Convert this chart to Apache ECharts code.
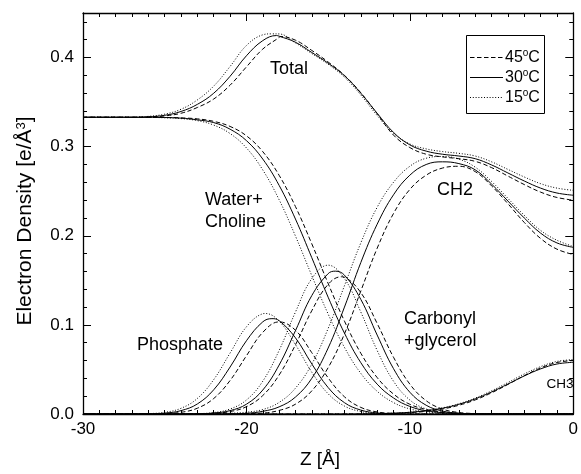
<!DOCTYPE html>
<html><head><meta charset="utf-8">
<script src="https://cdn.jsdelivr.net/npm/echarts@6/dist/echarts.min.js"></script>
<style>html,body{margin:0;padding:0;background:#fff}#c{width:581px;height:474px}</style>
</head><body><div id="c"></div>
<script>
// Z positions [Å]
const z = [-30,-29,-28,-27,-26,-25,-24,-23,-22,-21,-20,-19,-18,-17,-16,-15,-14,-13,-12,-11,-10,-9,-8,-7,-6,-5,-4,-3,-2,-1,0];
const temps = ['45°C','30°C','15°C'];
const xTicks = [-30,-20,-10,0];
const yTicks = [0.0,0.1,0.2,0.3,0.4];

// Total
const total45 = [0.333,0.333,0.333,0.333,0.3333,0.3345,0.3375,0.3440,0.3535,0.3690,0.3895,0.4095,0.4225,0.4195,0.4080,0.3950,0.3800,0.3605,0.3370,0.3130,0.2990,0.2915,0.2885,0.2865,0.2835,0.2765,0.2670,0.2575,0.2490,0.2430,0.2400];
const total30 = [0.333,0.333,0.333,0.333,0.3335,0.3352,0.3395,0.3475,0.3600,0.3790,0.4020,0.4190,0.4240,0.4172,0.4057,0.3937,0.3796,0.3600,0.3375,0.3160,0.3020,0.2950,0.2915,0.2895,0.2865,0.2795,0.2705,0.2615,0.2535,0.2480,0.2455];
const total15 = [0.333,0.333,0.333,0.333,0.3340,0.3365,0.3420,0.3525,0.3680,0.3900,0.4135,0.4255,0.4265,0.4165,0.4045,0.3925,0.3780,0.3580,0.3350,0.3150,0.3030,0.2975,0.2945,0.2925,0.2895,0.2830,0.2745,0.2660,0.2585,0.2535,0.2510];
// Water + Choline
const water45 = [0.333,0.333,0.333,0.333,0.3329,0.3328,0.3323,0.3312,0.3284,0.3227,0.3122,0.2944,0.2679,0.2328,0.1910,0.1465,0.1042,0.0682,0.0409,0.0224,0.0109,0.0051,0.0021,0.0008,0.0003,0.0001,0,0,0,0,0];
const water30 = [0.333,0.333,0.333,0.333,0.3329,0.3327,0.3320,0.3301,0.3270,0.3196,0.3068,0.2861,0.2566,0.2188,0.1754,0.1311,0.0907,0.0576,0.0335,0.0180,0.0085,0.0036,0.0015,0.0005,0.0002,0,0,0,0,0,0];
const water15 = [0.333,0.333,0.333,0.333,0.3329,0.3324,0.3315,0.3292,0.3242,0.3147,0.2986,0.2739,0.2405,0.1997,0.1553,0.1122,0.0747,0.0456,0.0255,0.0128,0.0057,0.0025,0.0010,0.0003,0.0001,0,0,0,0,0,0];
// Phosphate
const phos45 = [0,0,0,0,0.0001,0.0005,0.0019,0.0065,0.0174,0.0376,0.0653,0.0916,0.1034,0.0940,0.0688,0.0406,0.0193,0.0074,0.0023,0.0006,0.0001,0,0,0,0,0,0,0,0,0,0];
const phos30 = [0,0,0,0,0.0002,0.0010,0.0038,0.0113,0.0272,0.0527,0.0822,0.1034,0.1048,0.0855,0.0562,0.0297,0.0127,0.0044,0.0012,0.0003,0,0,0,0,0,0,0,0,0,0,0];
const phos15 = [0,0,0,0,0.0004,0.0019,0.0064,0.0175,0.0386,0.0684,0.0978,0.1125,0.1043,0.0779,0.0469,0.0227,0.0089,0.0028,0.0007,0.0001,0,0,0,0,0,0,0,0,0,0,0];
// Carbonyl + glycerol
const carb45 = [0,0,0,0,0,0,0,0.0002,0.0008,0.0027,0.0082,0.0207,0.0437,0.0776,0.1159,0.1455,0.1535,0.1362,0.1016,0.0637,0.0335,0.0149,0.0055,0.0017,0.0005,0.0001,0,0,0,0,0];
const carb30 = [0,0,0,0,0,0,0,0.0003,0.0011,0.0038,0.0110,0.0269,0.0549,0.0935,0.1329,0.1575,0.1558,0.1286,0.0886,0.0509,0.0244,0.0098,0.0033,0.0009,0.0002,0,0,0,0,0,0];
const carb15 = [0,0,0,0,0,0,0.0001,0.0004,0.0016,0.0056,0.0157,0.0368,0.0713,0.1144,0.1519,0.1670,0.1519,0.1144,0.0713,0.0368,0.0157,0.0056,0.0016,0.0004,0.0001,0,0,0,0,0,0];
// CH2
const ch2_45 = [0,0,0,0,0,0,0,0,0,0.0001,0.0004,0.001,0.004,0.011,0.026,0.052,0.090,0.138,0.186,0.225,0.252,0.268,0.276,0.278,0.272,0.256,0.236,0.215,0.197,0.185,0.179];
const ch2_30 = [0,0,0,0,0,0,0,0,0,0.0002,0.0008,0.003,0.008,0.019,0.040,0.074,0.120,0.170,0.213,0.246,0.268,0.280,0.283,0.281,0.274,0.258,0.239,0.220,0.203,0.192,0.187];
const ch2_15 = [0,0,0,0,0,0,0,0,0.0003,0.0008,0.002,0.005,0.013,0.029,0.056,0.096,0.144,0.192,0.232,0.260,0.278,0.287,0.289,0.286,0.277,0.261,0.242,0.223,0.206,0.195,0.188];
// CH3
const ch3_45 = [0,0,0,0,0,0,0,0,0,0,0,0,0,0,0,0,0,0.0001,0.0003,0.0007,0.0015,0.0030,0.0056,0.0098,0.0158,0.0238,0.0332,0.0430,0.0517,0.0578,0.0600];
const ch3_30 = [0,0,0,0,0,0,0,0,0,0,0,0,0,0,0,0,0,0.0001,0.0004,0.0009,0.0019,0.0037,0.0065,0.0109,0.0170,0.0247,0.0336,0.0427,0.0506,0.0561,0.0580];
const ch3_15 = [0,0,0,0,0,0,0,0,0,0,0,0,0,0,0,0,0,0.0001,0.0004,0.0010,0.0020,0.0038,0.0069,0.0115,0.0179,0.0260,0.0353,0.0449,0.0532,0.0590,0.0610];

// peak maxima read between grid points [z, value] (null = none)
const totalPeaks = [[-17.94,0.4236],[-18.16,0.4247],[-18.46,0.4266]];
const phosPeaks  = [null,[-18.44,0.1070],[-18.85,0.1128]];
const carbPeaks  = [[-14.19,0.1540],[-14.56,0.1603],null];

const groups = [
  {vals: [total45,total30,total15], peaks: totalPeaks},
  {vals: [water45,water30,water15], peaks: [null,null,null]},
  {vals: [phos45,phos30,phos15],   peaks: phosPeaks},
  {vals: [carb45,carb30,carb15],   peaks: carbPeaks},
  {vals: [ch2_45,ch2_30,ch2_15],   peaks: [null,null,null]},
  {vals: [ch3_45,ch3_30,ch3_15],   peaks: [null,null,null]}
];
const dashes = [[4.5,2.5], 'solid', [1,1.8]];
const FONT = 'Liberation Sans, Arial, Helvetica, sans-serif';

const series = [];
groups.forEach(g => g.vals.forEach((arr, ti) => {
  let data = z.map((x, i) => [x, arr[i]]);
  const pk = g.peaks[ti];
  if (pk) { data.push(pk); data.sort((a, b) => a[0] - b[0]); }
  series.push({
    type: 'line', name: temps[ti], xAxisIndex: 0, yAxisIndex: 0,
    data: data,
    smooth: 0.4, symbol: 'none', showSymbol: false, silent: true,
    lineStyle: {color: '#000', width: 1, type: dashes[ti]},
    itemStyle: {color: '#000'}
  });
}));

const axLine = {show: true, onZero: false, lineStyle: {color: '#000', width: 1.3}};
const tickStyle = {color: '#000', width: 1};
const chart = echarts.init(document.getElementById('c'), null, {renderer: 'canvas'});

const legendGraphics = [];
temps.forEach((t, i) => {
  const y = 57 + i * 20;
  legendGraphics.push({type: 'line', shape: {x1: 470, y1: y + 0.5, x2: 503, y2: y + 0.5},
    style: {stroke: '#000', lineWidth: 1, lineDash: i === 1 ? null : dashes[i]}, silent: true});
  legendGraphics.push({type: 'text', x: 505, y: y + 1,
    style: {text: t.replace('°', '{sup|o}'), font: '16px ' + FONT, fill: '#000', align: 'left', verticalAlign: 'middle', lineHeight: 20,
      rich: {sup: {fontSize: 10, fontFamily: FONT, fill: '#000', verticalAlign: 'top', lineHeight: 8}}}, silent: true});
});

chart.setOption({
  animation: false,
  backgroundColor: '#fff',
  grid: {left: 83, right: 4, top: 13, bottom: 60, containLabel: false},
  xAxis: [
    {type: 'value', position: 'bottom', min: -30, max: 0, interval: 10,
     axisLine: axLine, splitLine: {show: false},
     axisTick: {inside: true, length: 8, lineStyle: tickStyle},
     minorTick: {show: true, splitNumber: 10, length: 4, lineStyle: tickStyle},
     axisLabel: {fontSize: 17, color: '#000', fontFamily: FONT, margin: 7,
       formatter: v => xTicks.includes(v) ? String(v) : ''}},
    {type: 'value', position: 'top', min: -30, max: 0, interval: 10,
     axisLine: axLine, splitLine: {show: false},
     axisTick: {inside: true, length: 8, lineStyle: tickStyle},
     minorTick: {show: true, splitNumber: 10, length: 4, lineStyle: tickStyle},
     axisLabel: {show: false}}
  ],
  yAxis: [
    {type: 'value', position: 'left', min: 0, max: 0.45, interval: 0.1,
     axisLine: axLine, splitLine: {show: false},
     axisTick: {inside: true, length: 8, lineStyle: tickStyle},
     axisLabel: {fontSize: 17, color: '#000', fontFamily: FONT, margin: 9, showMaxLabel: false,
       formatter: v => yTicks.some(t => Math.abs(t - v) < 1e-9) ? v.toFixed(1) : ''}},
    {type: 'value', position: 'left', min: 0, max: 0.45, interval: 0.02,
     axisLine: {show: false, onZero: false}, splitLine: {show: false},
     axisTick: {inside: true, length: 4, lineStyle: tickStyle},
     axisLabel: {show: false}},
    {type: 'value', position: 'right', min: 0, max: 0.45, interval: 0.1,
     axisLine: axLine, splitLine: {show: false},
     axisTick: {inside: true, length: 8, lineStyle: tickStyle},
     axisLabel: {show: false}},
    {type: 'value', position: 'right', min: 0, max: 0.45, interval: 0.02,
     axisLine: {show: false, onZero: false}, splitLine: {show: false},
     axisTick: {inside: true, length: 4, lineStyle: tickStyle},
     axisLabel: {show: false}}
  ],
  graphic: [
    {type: 'rect', shape: {x: 466.5, y: 35.5, width: 78, height: 78}, style: {fill: 'none', stroke: '#000', lineWidth: 1}, silent: true, z: 10},
    ...legendGraphics,
    {type: 'text', x: 289, y: 69, style: {text: 'Total', font: '18px ' + FONT, fill: '#000', align: 'center', verticalAlign: 'middle'}},
    {type: 'text', x: 205, y: 200, style: {text: 'Water+', font: '18px ' + FONT, fill: '#000', align: 'left', verticalAlign: 'middle'}},
    {type: 'text', x: 205, y: 222, style: {text: 'Choline', font: '18px ' + FONT, fill: '#000', align: 'left', verticalAlign: 'middle'}},
    {type: 'text', x: 455, y: 190, style: {text: 'CH2', font: '18px ' + FONT, fill: '#000', align: 'center', verticalAlign: 'middle'}},
    {type: 'text', x: 180, y: 345, style: {text: 'Phosphate', font: '18px ' + FONT, fill: '#000', align: 'center', verticalAlign: 'middle'}},
    {type: 'text', x: 404, y: 319, style: {text: 'Carbonyl', font: '18px ' + FONT, fill: '#000', align: 'left', verticalAlign: 'middle'}},
    {type: 'text', x: 404, y: 341, style: {text: '+glycerol', font: '18px ' + FONT, fill: '#000', align: 'left', verticalAlign: 'middle'}},
    {type: 'text', x: 560, y: 384, style: {text: 'CH3', font: '13.5px ' + FONT, fill: '#000', align: 'center', verticalAlign: 'middle'}},
    {type: 'text', x: 320, y: 460, style: {text: 'Z [Å]', font: '19px ' + FONT, fill: '#000', align: 'center', verticalAlign: 'middle'}},
    {type: 'text', x: 25, y: 221, rotation: Math.PI / 2,
     style: {text: 'Electron Density [e/Å{sup|3}]', font: '21px ' + FONT, fill: '#000', align: 'center', verticalAlign: 'middle',
       rich: {sup: {fontSize: 13, fontFamily: FONT, fill: '#000', verticalAlign: 'top', lineHeight: 12}}}}
  ],
  series: series
});
</script></body></html>
